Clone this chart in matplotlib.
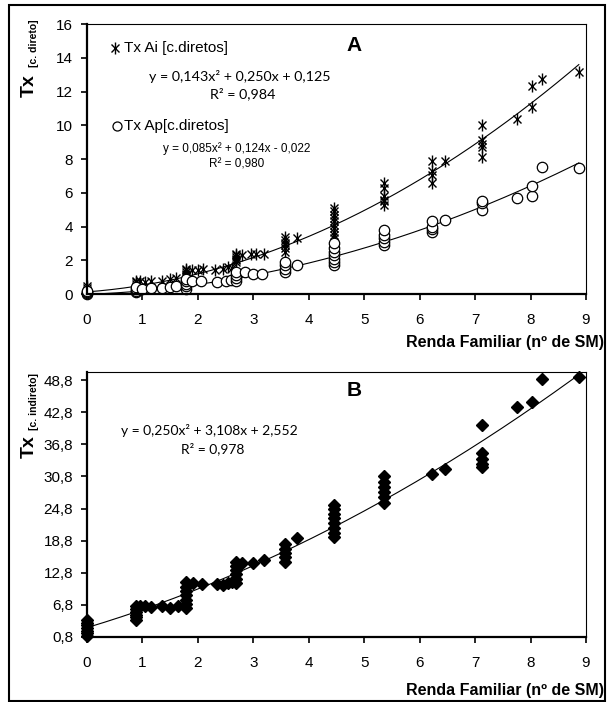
import matplotlib
matplotlib.use("Agg")
import matplotlib.pyplot as plt
from matplotlib.ticker import FuncFormatter
from matplotlib.patches import Rectangle
import numpy as np

plt.rcParams['font.family'] = ['Liberation Sans', 'DejaVu Sans']

# --- Painel A: custos diretos ---
ai_x = [0, 0, 0, 0, 0,
        0.88, 0.88, 0.88, 0.88, 0.88,
        0.95, 1.05, 1.15, 1.35, 1.5, 1.6,
        1.78, 1.78, 1.78, 1.78, 1.78, 1.78,
        1.9, 2.0, 2.1, 2.3, 2.45, 2.55, 2.62,
        2.68, 2.68, 2.68, 2.68, 2.68, 2.68,
        2.8, 2.95, 3.05, 3.2,
        3.58, 3.58, 3.58, 3.58, 3.58, 3.58, 3.78,
        4.45, 4.45, 4.45, 4.45, 4.45, 4.45, 4.45, 4.45, 4.45, 4.45, 4.45, 4.45,
        5.35, 5.35, 5.35, 5.35, 5.35, 5.35,
        6.23, 6.23, 6.23, 6.23, 6.45,
        7.12, 7.12, 7.12, 7.12, 7.12,
        7.75, 8.02, 8.02, 8.2, 8.87]
ai_y = [0.05, 0.15, 0.25, 0.35, 0.45,
        0.4, 0.5, 0.6, 0.7, 0.8,
        0.75, 0.7, 0.8, 0.8, 0.9, 0.95,
        1.0, 1.1, 1.2, 1.3, 1.4, 1.5,
        1.45, 1.4, 1.5, 1.4, 1.5, 1.6, 1.55,
        1.9, 2.0, 2.1, 2.2, 2.3, 2.4,
        2.3, 2.4, 2.35, 2.4,
        2.5, 2.7, 2.9, 3.0, 3.2, 3.4, 3.3,
        2.8, 3.0, 3.3, 3.5, 3.7, 3.9, 4.1, 4.3, 4.5, 4.7, 4.9, 5.1,
        5.3, 5.5, 5.6, 5.8, 6.3, 6.6,
        6.6, 7.05, 7.3, 7.9, 7.9,
        8.1, 8.7, 8.9, 9.1, 10.0,
        10.4, 11.1, 12.3, 12.75, 13.15]

ap_x = [0, 0, 0, 0,
        0.88, 0.88, 0.88, 0.88,
        1.0, 1.15, 1.35, 1.5, 1.6,
        1.78, 1.78, 1.78, 1.78, 1.78,
        1.9, 2.05, 2.35, 2.5, 2.6,
        2.68, 2.68, 2.68, 2.68,
        2.85, 3.0, 3.15,
        3.58, 3.58, 3.58, 3.58, 3.78,
        4.45, 4.45, 4.45, 4.45, 4.45, 4.45, 4.45,
        5.35, 5.35, 5.35, 5.35, 5.35,
        6.23, 6.23, 6.23, 6.23, 6.45,
        7.12, 7.12, 7.12,
        7.75, 8.02, 8.02, 8.2, 8.87]
ap_y = [0.0, 0.05, 0.1, 0.15,
        0.1, 0.2, 0.3, 0.4,
        0.3, 0.35, 0.35, 0.4, 0.45,
        0.3, 0.45, 0.6, 0.75, 0.9,
        0.8, 0.8, 0.7, 0.75, 0.85,
        0.8, 0.95, 1.1, 1.3,
        1.3, 1.2, 1.2,
        1.3, 1.5, 1.7, 1.9, 1.7,
        1.7, 1.9, 2.1, 2.3, 2.5, 2.7, 3.0,
        2.9, 3.1, 3.3, 3.5, 3.8,
        3.7, 3.85, 4.0, 4.3, 4.4,
        5.0, 5.4, 5.5,
        5.7, 5.8, 6.4, 7.5, 7.45]

coef_ai = [0.143, 0.250, 0.125]
coef_ap = [0.085, 0.124, -0.022]

# --- Painel B: custos indiretos ---
b_x = [0, 0, 0, 0, 0, 0, 0,
       0.88, 0.88, 0.88, 0.88, 0.88, 0.88,
       0.95, 1.05, 1.15, 1.35, 1.5, 1.65,
       1.78, 1.78, 1.78, 1.78, 1.78, 1.78, 1.78,
       1.92, 2.07, 2.35, 2.45, 2.55, 2.62,
       2.68, 2.68, 2.68, 2.68, 2.68, 2.68,
       2.8, 3.0, 3.2,
       3.58, 3.58, 3.58, 3.58, 3.58, 3.78,
       4.45, 4.45, 4.45, 4.45, 4.45, 4.45, 4.45, 4.45,
       5.35, 5.35, 5.35, 5.35, 5.35, 5.35,
       6.23, 6.45,
       7.12, 7.12, 7.12, 7.12, 7.12,
       7.75, 8.02, 8.2, 8.87]
b_y = [1.0, 1.5, 2.0, 2.5, 3.0, 3.5, 4.0,
       4.0, 4.5, 5.0, 5.5, 6.0, 6.5,
       6.6, 6.5, 6.4, 6.6, 6.3, 6.5,
       6.2, 7.0, 7.8, 8.6, 9.4, 10.2, 11.0,
       10.9, 10.7, 10.7, 10.6, 10.9, 11.0,
       10.9, 11.7, 12.5, 13.3, 14.1, 14.9,
       14.7, 14.6, 15.1,
       14.9, 15.7, 16.5, 17.3, 18.1, 19.2,
       19.4, 20.3, 21.2, 22.1, 23.0, 23.8, 24.7, 25.5,
       25.9, 26.9, 27.9, 28.8, 29.8, 30.8,
       31.2, 32.1,
       32.5, 33.2, 34.0, 35.1, 40.4,
       43.7, 44.7, 49.0, 49.3]
coef_b = [0.250, 3.108, 2.552]

b_ticks = [0.8, 6.8, 12.8, 18.8, 24.8, 30.8, 36.8, 42.8, 48.8]


def style_axes(ax):
    for s in ['left', 'bottom']:
        ax.spines[s].set_linewidth(1.6)
    for s in ['top', 'right']:
        ax.spines[s].set_linewidth(0.8)
    ax.tick_params(direction='out', length=4, width=1.2, labelsize=11, pad=6)
    ax.tick_params(axis='x', pad=10)
    ax.set_xlim(0, 9)
    ax.set_xticks(range(10))


def star(ax, x, y, **kw):
    # estrela do Excel: x com barra vertical
    ax.plot(x, y, ls='none', marker='x', ms=6, mec='black', mew=1.0, clip_on=False, **kw)
    ax.plot(x, y, ls='none', marker='|', ms=8, mec='black', mew=1.0, clip_on=False, **kw)


fig = plt.figure(figsize=(6.08, 7.02), dpi=100)
fig.patches.append(Rectangle((9 / 608, 0.002), 596 / 608, 1 - 5 / 702 - 0.002,
                             transform=fig.transFigure, fill=False,
                             lw=1.5, ec='black'))

axA = fig.add_axes([87 / 608, 1 - 294 / 702, 499 / 608, 270 / 702])
axB = fig.add_axes([87 / 608, 1 - 637 / 702, 499 / 608, 265 / 702])

xx = np.linspace(0, 8.87, 200)

# A
axA.plot(xx, np.polyval(coef_ai, xx), color='black', lw=0.8)
axA.plot(xx, np.polyval(coef_ap, xx), color='black', lw=0.8)
star(axA, ai_x, ai_y)
axA.plot(ap_x, ap_y, ls='none', marker='o', ms=7.5, mfc='white', mec='black',
         mew=0.9, clip_on=False)
style_axes(axA)
axA.set_ylim(0, 16)
axA.set_yticks(range(0, 17, 2))

star(axA, [0.056], [0.911], transform=axA.transAxes)
axA.text(0.074, 0.911, 'Tx Ai [c.diretos]', transform=axA.transAxes,
         fontsize=11, va='center')
axA.plot([0.060], [0.622], transform=axA.transAxes, marker='o', ms=6.5,
         mfc='white', mec='black', mew=0.9, clip_on=False)
axA.text(0.074, 0.622, 'Tx Ap[c.diretos]', transform=axA.transAxes,
         fontsize=11, va='center')
axA.text(0.307, 0.807, 'y = 0,143x² + 0,250x + 0,125', transform=axA.transAxes,
         fontsize=10.3, ha='center', va='center', family='Lato')
axA.text(0.313, 0.741, 'R² = 0,984', transform=axA.transAxes,
         fontsize=10.3, ha='center', va='center', family='Lato')
axA.text(0.299, 0.540, 'y = 0,085x² + 0,124x - 0,022', transform=axA.transAxes,
         fontsize=8.5, ha='center', va='center')
axA.text(0.299, 0.478, 'R² = 0,980', transform=axA.transAxes,
         fontsize=8.5, ha='center', va='center')
axA.text(0.535, 0.922, 'A', transform=axA.transAxes, fontsize=15,
         fontweight='bold', ha='center', va='center')

# B
axB.plot(xx, np.polyval(coef_b, xx), color='black', lw=0.8)
axB.plot(b_x, b_y, ls='none', marker='D', ms=6.5, color='black', clip_on=False)
style_axes(axB)
axB.set_ylim(0.8, 50.3)
axB.set_yticks(b_ticks)
axB.yaxis.set_major_formatter(FuncFormatter(lambda v, p: f'{v:.1f}'.replace('.', ',')))
axB.text(0.245, 0.781, 'y = 0,250x² + 3,108x + 2,552', transform=axB.transAxes,
         fontsize=10, ha='center', va='center', family='Lato')
axB.text(0.251, 0.709, 'R² = 0,978', transform=axB.transAxes,
         fontsize=10, ha='center', va='center', family='Lato')
axB.text(0.535, 0.932, 'B', transform=axB.transAxes, fontsize=15,
         fontweight='bold', ha='center', va='center')

# rotulos
for ypx, lab in [(342, 'Renda Familiar (nº de SM)'), (690, 'Renda Familiar (nº de SM)')]:
    fig.text(604 / 608, 1 - ypx / 702, lab, fontsize=11.5, fontweight='bold',
             ha='right', va='center')

fig.text(29 / 608, 1 - 86 / 702, 'Tx', rotation=90, fontsize=14,
         fontweight='bold', ha='center', va='center')
fig.text(34 / 608, 1 - 43 / 702, '[c. direto]', rotation=90, fontsize=7.5,
         fontweight='bold', ha='center', va='center')
fig.text(29 / 608, 1 - 447 / 702, 'Tx', rotation=90, fontsize=14,
         fontweight='bold', ha='center', va='center')
fig.text(34 / 608, 1 - 402 / 702, '[c. indireto]', rotation=90, fontsize=7.5,
         fontweight='bold', ha='center', va='center')

fig.savefig('out.png', dpi=100)
